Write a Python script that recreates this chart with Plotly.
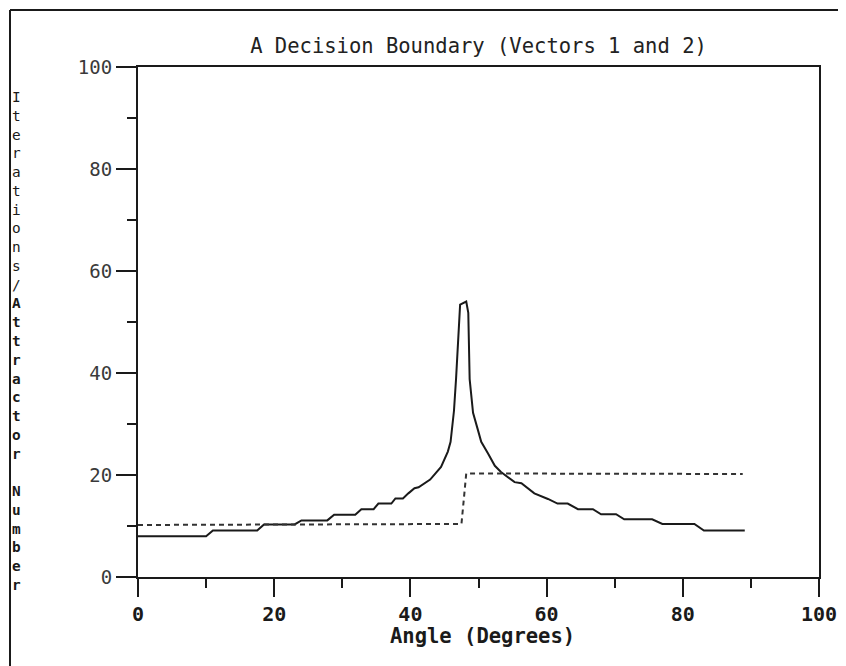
import plotly.graph_objects as go

# Iterations vs angle (solid curve)
angle_iter = [0, 10.0, 11.0, 17.5, 18.5, 23.0, 24.0, 27.8, 28.8, 31.9, 32.8, 34.6,
              35.3, 37.2, 37.8, 38.9, 39.7, 40.6, 41.2, 42.9, 44.5, 45.5, 45.9,
              46.4, 46.7, 47.1, 47.3, 48.2, 48.5, 48.7, 49.2, 49.9, 50.4, 51.4,
              52.4, 53.3, 55.3, 56.3, 58.2, 60.2, 61.6, 63.1, 64.6, 66.8, 68.0,
              70.2, 71.4, 75.5, 77.0, 81.7, 83.1, 89.1]
iterations = [8.0, 8.0, 9.1, 9.1, 10.3, 10.3, 11.1, 11.1, 12.2, 12.2, 13.3, 13.3,
              14.4, 14.4, 15.4, 15.4, 16.4, 17.4, 17.6, 19.1, 21.6, 24.6, 26.5,
              32.6, 38.8, 50.0, 53.4, 54.0, 51.8, 38.8, 32.2, 28.9, 26.5, 24.2,
              21.8, 20.6, 18.6, 18.4, 16.4, 15.3, 14.4, 14.4, 13.3, 13.3, 12.3,
              12.3, 11.3, 11.3, 10.4, 10.4, 9.1, 9.1]

# Attractor number vs angle (dashed curve)
angle_attr = [0, 47.5, 48.2, 88.8]
attractor = [10.2, 10.4, 20.3, 20.2]

x_ticks = [0, 20, 40, 60, 80, 100]
y_ticks = [0, 20, 40, 60, 80, 100]

FONT = "DejaVu Sans Mono, monospace"
INK = "#1a1a1a"

# the page body adds an 8px offset, so the figure is drawn 8px smaller
W, H = 838, 658
OFF = 8
PL, PR, PT, PB = 138, 819, 67, 577   # plot box in window pixels


def px_x(px):
    return (px - PL) / (PR - PL)


def px_y(py):
    return (PB - py) / (PB - PT)


fig = go.Figure()
fig.add_trace(go.Scatter(
    x=angle_iter, y=iterations, mode="lines",
    line=dict(color=INK, width=2),
    showlegend=False, hoverinfo="skip"
))
fig.add_trace(go.Scatter(
    x=angle_attr, y=attractor, mode="lines",
    line=dict(color="#333333", width=2, dash="5px,4px"),
    showlegend=False, hoverinfo="skip"
))

# stacked vertical y-axis title, one letter per row
ytitle = "Iterations/Attractor Number"
n_bold_from = len("Iterations/")
annotations = []
y_first, y_last = 97, 585
step = (y_last - y_first) / (len(ytitle) - 1)
for i, ch in enumerate(ytitle):
    if ch == " ":
        continue
    txt = "<b>%s</b>" % ch if i >= n_bold_from else ch
    annotations.append(dict(
        text=txt, xref="paper", yref="paper",
        x=px_x(16), y=px_y(y_first + i * step),
        xanchor="center", yanchor="middle", showarrow=False,
        font=dict(family=FONT, size=14.4, color=INK)))

annotations.append(dict(
    text="<b>Angle (Degrees)</b>", xref="paper", yref="paper",
    x=px_x(482), y=px_y(636), xanchor="center", yanchor="middle",
    showarrow=False, font=dict(family=FONT, size=20.5, color=INK)))

fig.update_layout(
    width=W, height=H,
    margin=dict(l=PL - OFF, r=W - (PR - OFF), t=PT - OFF, b=H - (PB - OFF)),
    paper_bgcolor="white", plot_bgcolor="white",
    font=dict(family=FONT, color=INK),
    title=dict(
        text="A Decision Boundary (Vectors 1 and 2)",
        x=0.5, xref="paper", xanchor="center",
        y=1 - (46 - OFF) / H, yanchor="middle",
        font=dict(family=FONT, size=20.5, color="#222222")
    ),
    xaxis=dict(
        range=[0, 100], tickvals=x_ticks, showgrid=False, zeroline=False,
        showline=True, linecolor=INK, linewidth=2, mirror=True, automargin=False,
        ticks="outside", ticklen=18, tickwidth=2, tickcolor=INK,
        minor=dict(dtick=10, ticks="outside", ticklen=9, tickwidth=2, tickcolor=INK),
        tickfont=dict(family=FONT, size=20, color=INK, weight="bold"),
    ),
    yaxis=dict(
        range=[0, 100], tickvals=y_ticks, showgrid=False, zeroline=False,
        showline=True, linecolor=INK, linewidth=2, mirror=True, automargin=False,
        ticks="outside", ticklen=20, tickwidth=2, tickcolor=INK,
        minor=dict(dtick=10, ticks="outside", ticklen=9, tickwidth=2, tickcolor=INK),
        tickfont=dict(family=FONT, size=19, color="#3a3a3a"),
    ),
    annotations=annotations,
    shapes=[
        # scanned page frame
        dict(type="line", xref="paper", yref="paper",
             x0=px_x(10), x1=px_x(846), y0=px_y(10), y1=px_y(10),
             line=dict(color=INK, width=2)),
        dict(type="line", xref="paper", yref="paper",
             x0=px_x(10), x1=px_x(10), y0=px_y(10), y1=px_y(666),
             line=dict(color=INK, width=2)),
    ],
)

fig.write_html("out.html")
